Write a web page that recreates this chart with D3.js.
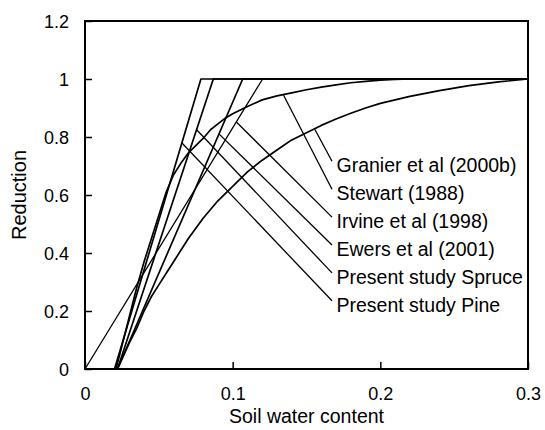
<!DOCTYPE html>
<html>
<head>
<meta charset="utf-8">
<script src="https://cdn.jsdelivr.net/npm/d3@7/dist/d3.min.js"></script>
<style>
  html, body { margin: 0; padding: 0; background: #fff; }
  text { font-family: Arial, "Liberation Sans", sans-serif; fill: #000; }
</style>
</head>
<body>
<svg id="chart" width="545" height="430"></svg>
<script>
// ---- data ----
const xTicks = [0, 0.1, 0.2, 0.3];
const yTicks = [0, 0.2, 0.4, 0.6, 0.8, 1, 1.2];
const xTickLabels = ["0", "0.1", "0.2", "0.3"];
const yTickLabels = ["0", "0.2", "0.4", "0.6", "0.8", "1", "1.2"];

const seriesNames = ["Granier et al (2000b)", "Stewart (1988)", "Irvine et al (1998)",
                     "Ewers et al (2001)", "Present study Spruce", "Present study Pine"];

// Granier et al (2000b): lower saturating curve
const granier = [[0.022,0],[0.03,0.09],[0.035,0.14],[0.04,0.2],[0.045,0.25],[0.05,0.29],
  [0.055,0.33],[0.06,0.37],[0.07,0.45],[0.08,0.52],[0.09,0.58],[0.10,0.63],[0.11,0.68],
  [0.12,0.72],[0.13,0.755],[0.14,0.79],[0.15,0.815],[0.16,0.84],[0.17,0.862],[0.18,0.882],
  [0.19,0.90],[0.20,0.916],[0.22,0.94],[0.24,0.96],[0.26,0.977],[0.28,0.99],[0.30,1.0]];

// Stewart (1988): upper saturating curve
const stewart = [[0.021,0],[0.03,0.18],[0.035,0.28],[0.04,0.37],[0.045,0.45],[0.05,0.53],
  [0.055,0.61],[0.06,0.67],[0.065,0.71],[0.07,0.745],[0.075,0.77],[0.08,0.795],[0.085,0.825],
  [0.09,0.845],[0.095,0.865],[0.10,0.88],[0.11,0.905],[0.12,0.928],[0.13,0.942],[0.14,0.952],
  [0.15,0.963],[0.16,0.972],[0.17,0.98],[0.18,0.987],[0.19,0.992],[0.20,0.996],[0.21,0.999],
  [0.22,1],[0.30,1]];

// threshold (linear) models
const irvine = [[0,0],[0.1203,1],[0.3,1]];
const ewers  = [[0.022,0],[0.1068,1],[0.3,1]];
const spruce = [[0.022,0],[0.0869,1],[0.3,1]];
const pine   = [[0.020,0],[0.0785,1],[0.3,1]];

// points on each series where the label leader touches
const leaderTips = [[0.1557,0.826],[0.1344,0.945],[0.1025,0.852],[0.0909,0.81],[0.0756,0.825],[0.0655,0.78]];

// ---- layout ----
const svg = d3.select("#chart");
const W = 545, H = 430;
const m = {left: 85, right: 17, top: 21, bottom: 61};
const x = d3.scaleLinear().domain([0, 0.3]).range([m.left, W - m.right]);
const y = d3.scaleLinear().domain([0, 1.2]).range([H - m.bottom, m.top]);

const line = d3.line().x(d => x(d[0])).y(d => y(d[1]));

// series
const allSeries = [granier, stewart, irvine, ewers, spruce, pine];
const widths = [1.7, 1.7, 1.3, 1.7, 1.7, 1.7];
allSeries.forEach((s, i) => {
  svg.append("path").attr("d", line(s)).attr("fill", "none")
    .attr("stroke", "#000").attr("stroke-width", widths[i]).attr("stroke-linejoin", "round");
});

// frame
svg.append("rect").attr("x", x(0)).attr("y", y(1.2))
  .attr("width", x(0.3) - x(0)).attr("height", y(0) - y(1.2))
  .attr("fill", "none").attr("stroke", "#000").attr("stroke-width", 2);

// axes (inward ticks)
const xAxis = d3.axisBottom(x).tickValues(xTicks).tickSize(-7).tickPadding(0)
  .tickFormat((d, i) => xTickLabels[i]);
const gx = svg.append("g").attr("transform", `translate(0,${y(0)})`).call(xAxis);
gx.select(".domain").remove();
gx.selectAll(".tick line").attr("stroke", "#000").attr("stroke-width", 1.5);
gx.selectAll(".tick text").attr("font-size", 18).attr("y", 31).attr("dy", 0);

const yAxis = d3.axisLeft(y).tickValues(yTicks).tickSize(-7).tickPadding(0)
  .tickFormat((d, i) => yTickLabels[i]);
const gy = svg.append("g").attr("transform", `translate(${x(0)},0)`).call(yAxis);
gy.select(".domain").remove();
gy.selectAll(".tick line").attr("stroke", "#000").attr("stroke-width", 1.5);
gy.selectAll(".tick text").attr("font-size", 18).attr("x", -16).attr("dy", "0.35em");

// axis titles
svg.append("text").attr("x", (x(0) + x(0.3)) / 2).attr("y", 423)
  .attr("text-anchor", "middle").attr("font-size", 19.5).text("Soil water content");
svg.append("text").attr("transform", `translate(26,${(y(0) + y(1.2)) / 2}) rotate(-90)`)
  .attr("text-anchor", "middle").attr("font-size", 20).text("Reduction");

// labels with leader lines
const labelX = 336.5, labelY0 = 172.3, labelDY = 27.9;
seriesNames.forEach((name, i) => {
  const by = labelY0 + i * labelDY;
  svg.append("line")
    .attr("x1", x(leaderTips[i][0])).attr("y1", y(leaderTips[i][1]))
    .attr("x2", labelX - 4.5).attr("y2", by - 11)
    .attr("stroke", "#000").attr("stroke-width", 1.3);
  svg.append("text").attr("x", labelX).attr("y", by).attr("font-size", 19.5).text(name);
});
</script>
</body>
</html>
